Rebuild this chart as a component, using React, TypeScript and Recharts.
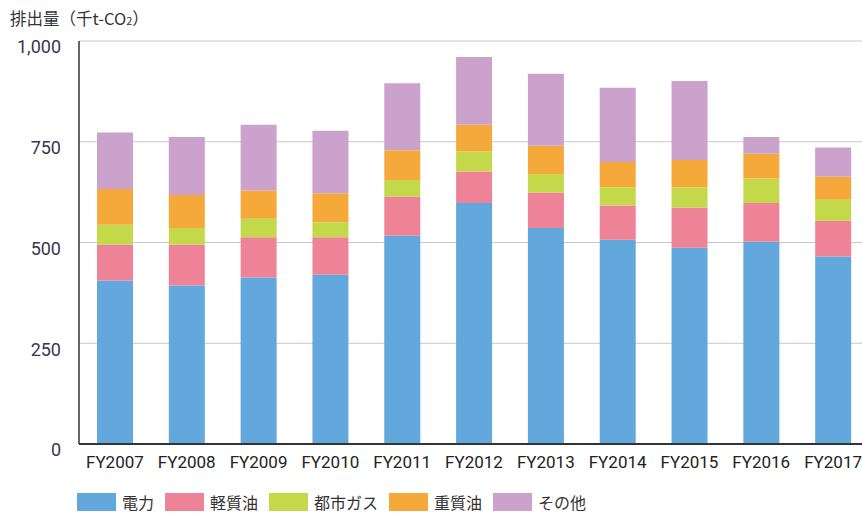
import React from 'react';
import { BarChart, Bar, XAxis, YAxis, CartesianGrid } from 'recharts';

const years = ['FY2007', 'FY2008', 'FY2009', 'FY2010', 'FY2011', 'FY2012', 'FY2013', 'FY2014', 'FY2015', 'FY2016', 'FY2017'];
const electricity = [406, 393, 413, 420, 517, 598, 536, 507, 487, 502, 465];
const lightOil = [89, 102, 100, 93, 97, 78, 88, 85, 100, 96, 89];
const cityGas = [49, 41, 46, 37, 41, 50, 46, 45, 50, 61, 52];
const heavyOil = [89, 82, 70, 72, 74, 66, 70, 63, 68, 61, 57];
const others = [140, 144, 163, 155, 166, 168, 179, 184, 196, 42, 73];
const yTicks = [0, 250, 500, 750, 1000];

const series = [
  { key: 'electricity', name: '電力', color: '#62a8dc' },
  { key: 'lightOil', name: '軽質油', color: '#ee8398' },
  { key: 'cityGas', name: '都市ガス', color: '#c3d94a' },
  { key: 'heavyOil', name: '重質油', color: '#f6a93b' },
  { key: 'others', name: 'その他', color: '#cba2cb' },
];

const data = years.map((year, i) => ({
  year,
  electricity: electricity[i],
  lightOil: lightOil[i],
  cityGas: cityGas[i],
  heavyOil: heavyOil[i],
  others: others[i],
}));

const font = '"Noto Sans CJK JP", "Noto Sans", sans-serif';

export default function App() {
  return (
    <div style={{ position: 'absolute', left: 0, top: 0, width: 862, height: 513, overflow: 'hidden', background: '#fff' }}>
      <div style={{ position: 'absolute', left: 10, top: 6, fontFamily: font, fontSize: 16.5, color: '#333', whiteSpace: 'nowrap' }}>
        排出量（千t-CO<sub style={{ fontSize: 11, verticalAlign: 'baseline' }}>2</sub>）
      </div>
      <BarChart
        width={880}
        height={513}
        data={data}
        margin={{ top: 41, right: 11, left: 0, bottom: 39 }}
        barSize={36}
      >
        <CartesianGrid vertical={false} stroke="#c8c8c8" />
        <XAxis
          dataKey="year"
          axisLine={{ stroke: '#333', strokeWidth: 2 }}
          tickLine={false}
          height={30}
          tick={{ fontSize: 17, fill: '#222', fontFamily: 'Roboto, sans-serif' }}
          interval={0}
          tickMargin={6}
        />
        <YAxis
          domain={[0, 1000]}
          ticks={yTicks}
          width={79}
          axisLine={{ stroke: '#333', strokeWidth: 1.5 }}
          tickLine={false}
          tickFormatter={(v: number) => v.toLocaleString('en-US')}
          tick={{ fontSize: 18, fill: '#3a3550', fontFamily: 'Roboto, sans-serif', dy: 6 }}
          tickMargin={12}
        />
        {series.map((s) => (
          <Bar key={s.key} dataKey={s.key} name={s.name} stackId="a" fill={s.color} isAnimationActive={false} />
        ))}
      </BarChart>
      <div style={{ position: 'absolute', left: 77, top: 490, display: 'flex', alignItems: 'center', fontFamily: font, fontSize: 16, color: '#333' }}>
        {series.map((s) => (
          <div key={s.key} style={{ display: 'flex', alignItems: 'center', marginRight: 11 }}>
            <span style={{ display: 'inline-block', width: 39, height: 18, background: s.color, marginRight: 6 }} />
            <span>{s.name}</span>
          </div>
        ))}
      </div>
    </div>
  );
}
